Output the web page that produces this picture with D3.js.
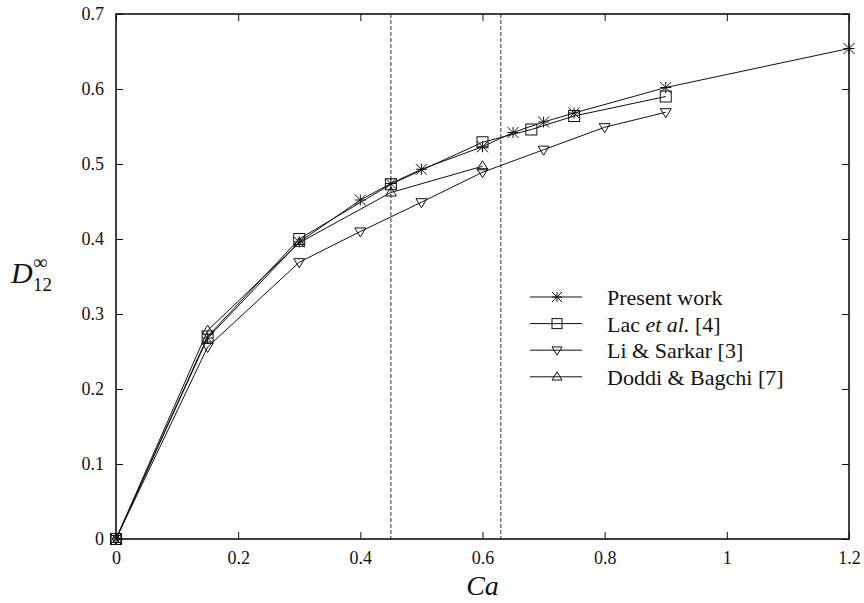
<!DOCTYPE html>
<html>
<head>
<meta charset="utf-8">
<script src="https://cdn.jsdelivr.net/npm/d3@7"></script>
<style>
  body { margin: 0; background: #fff; }
</style>
</head>
<body>
<div id="chart-area"></div>
<script>
// data
const presentX = [0, 0.15, 0.3, 0.4, 0.45, 0.5, 0.6, 0.65, 0.7, 0.75, 0.9, 1.2]
const presentY = [0, 0.268, 0.396, 0.452, 0.474, 0.493, 0.523, 0.542, 0.556, 0.568, 0.602, 0.654]
const lacX = [0, 0.15, 0.3, 0.45, 0.6, 0.68, 0.75, 0.9]
const lacY = [0, 0.27, 0.4, 0.473, 0.529, 0.546, 0.564, 0.59]
const liX = [0, 0.15, 0.3, 0.4, 0.5, 0.6, 0.7, 0.8, 0.9]
const liY = [0, 0.256, 0.369, 0.41, 0.449, 0.489, 0.519, 0.549, 0.569]
const doddiX = [0, 0.15, 0.3, 0.45, 0.6]
const doddiY = [0, 0.278, 0.395, 0.462, 0.497]
const dashedX = [0.45, 0.63]
const xTicks = [0, 0.2, 0.4, 0.6, 0.8, 1, 1.2]
const yTicks = [0, 0.1, 0.2, 0.3, 0.4, 0.5, 0.6, 0.7]
const seriesNames = ['Present work', 'Lac et al. [4]', 'Li & Sarkar [3]', 'Doddi & Bagchi [7]']

const FONT = "'Liberation Serif', 'Times New Roman', 'DejaVu Serif', serif"

const series = [
  { name: seriesNames[0], xs: presentX, ys: presentY, sym: 'star' },
  { name: seriesNames[1], xs: lacX, ys: lacY, sym: 'square' },
  { name: seriesNames[2], xs: liX, ys: liY, sym: 'tridown' },
  { name: seriesNames[3], xs: doddiX, ys: doddiY, sym: 'triup' }
]

// Sizing
const MARGIN = { LEFT: 116, RIGHT: 15, TOP: 14, BOTTOM: 64 }
const WIDTH = 864 - MARGIN.LEFT - MARGIN.RIGHT
const HEIGHT = 603 - MARGIN.TOP - MARGIN.BOTTOM

const svg = d3.select('#chart-area').append('svg')
  .attr('width', 864)
  .attr('height', 603)
  .style('font-family', FONT)

const g = svg.append('g')
  .attr('transform', `translate(${MARGIN.LEFT}, ${MARGIN.TOP})`)

const x = d3.scaleLinear().domain([0, 1.2]).range([0, WIDTH])
const y = d3.scaleLinear().domain([0, 0.7]).range([HEIGHT, 0])

// axes (ticks inside, mirrored on top / right)
const fmt = d => d === 0 ? '0' : (d === 1 ? '1' : d3.format('.1f')(d))
const xAxis = g.append('g').attr('transform', `translate(0, ${HEIGHT})`)
  .call(d3.axisBottom(x).tickValues(xTicks).tickSizeInner(-7).tickSizeOuter(0).tickPadding(13).tickFormat(fmt))
const xTop = g.append('g')
  .call(d3.axisTop(x).tickValues(xTicks).tickSizeInner(-7).tickSizeOuter(0).tickFormat(''))
const yAxis = g.append('g')
  .call(d3.axisLeft(y).tickValues(yTicks).tickSizeInner(-7).tickSizeOuter(0).tickPadding(12).tickFormat(fmt))
const yRight = g.append('g').attr('transform', `translate(${WIDTH}, 0)`)
  .call(d3.axisRight(y).tickValues(yTicks).tickSizeInner(-7).tickSizeOuter(0).tickFormat(''))

g.selectAll('.domain').remove()
g.selectAll('g').attr('font-family', null)
g.selectAll('.tick line').attr('stroke', '#111').attr('stroke-width', 1)
g.selectAll('.tick text')
  .style('font-family', FONT)
  .style('font-size', '18px')
  .attr('fill', '#111')
xAxis.selectAll('.tick text').attr('dy', '0.68em')

// dashed verticals
g.selectAll('.vdash').data(dashedX).enter().append('line')
  .attr('x1', d => x(d)).attr('x2', d => x(d))
  .attr('y1', 0).attr('y2', HEIGHT)
  .attr('stroke', '#555').attr('stroke-width', 1.2)
  .attr('stroke-dasharray', '4,2')

// frame
g.append('rect')
  .attr('width', WIDTH).attr('height', HEIGHT)
  .attr('fill', 'none').attr('stroke', '#111').attr('stroke-width', 1.6)

// symbols
function drawSym(sel, sym, cx, cy, s = 5.5) {
  const h = s * 0.65
  if (sym === 'star') {
    const p = `M${cx - s},${cy}L${cx + s},${cy}M${cx},${cy - s}L${cx},${cy + s}` +
      `M${cx - s},${cy - s}L${cx + s},${cy + s}M${cx - s},${cy + s}L${cx + s},${cy - s}`
    sel.append('path').attr('d', p).attr('stroke', '#111').attr('stroke-width', 1).attr('fill', 'none')
  } else if (sym === 'square') {
    sel.append('rect').attr('x', cx - s).attr('y', cy - s).attr('width', 2 * s).attr('height', 2 * s)
      .attr('fill', 'none').attr('stroke', '#111').attr('stroke-width', 1)
  } else if (sym === 'tridown') {
    const p = `M${cx - s},${cy - h}L${cx + s},${cy - h}L${cx},${cy + s}Z`
    sel.append('path').attr('d', p).attr('fill', 'none').attr('stroke', '#111').attr('stroke-width', 1)
  } else {
    const p = `M${cx - s},${cy + h}L${cx + s},${cy + h}L${cx},${cy - s}Z`
    sel.append('path').attr('d', p).attr('fill', 'none').attr('stroke', '#111').attr('stroke-width', 1)
  }
}

const line = d3.line().x(d => x(d[0])).y(d => y(d[1]))

series.forEach(s => {
  const pts = s.xs.map((v, i) => [v, s.ys[i]])
  g.append('path').datum(pts)
    .attr('d', line)
    .attr('fill', 'none').attr('stroke', '#111').attr('stroke-width', 1)
  const mg = g.append('g')
  pts.forEach(p => drawSym(mg, s.sym, x(p[0]), y(p[1])))
})

// legend
const legend = svg.append('g').attr('transform', 'translate(530, 297)')
series.forEach((s, i) => {
  const row = legend.append('g').attr('transform', `translate(0, ${i * 26.6})`)
  row.append('line').attr('x1', 0).attr('x2', 52).attr('y1', 0).attr('y2', 0)
    .attr('stroke', '#111').attr('stroke-width', 1)
  drawSym(row, s.sym, 27, 0, 5)
  const t = row.append('text').attr('x', 77).attr('y', 8)
    .style('font-family', FONT).style('font-size', '22px').attr('fill', '#111')
  if (i === 1) {
    t.append('tspan').text('Lac ')
    t.append('tspan').style('font-style', 'italic').text('et al.')
    t.append('tspan').text(' [4]')
  } else {
    t.text(s.name)
  }
})

// axis labels
svg.append('text')
  .attr('x', MARGIN.LEFT + WIDTH / 2)
  .attr('y', 595)
  .attr('text-anchor', 'middle')
  .style('font-family', FONT)
  .style('font-size', '28px')
  .style('font-style', 'italic')
  .attr('fill', '#111')
  .text('Ca')

svg.append('text').attr('x', 11).attr('y', 283)
  .style('font-family', FONT).style('font-size', '30px').style('font-style', 'italic')
  .attr('fill', '#111').text('D')
svg.append('text').attr('x', 33).attr('y', 269)
  .style('font-family', FONT).style('font-size', '20px')
  .attr('fill', '#111').text('∞')
svg.append('text').attr('x', 33).attr('y', 291)
  .style('font-family', FONT).style('font-size', '19px')
  .attr('fill', '#111').text('12')
</script>
</body>
</html>
